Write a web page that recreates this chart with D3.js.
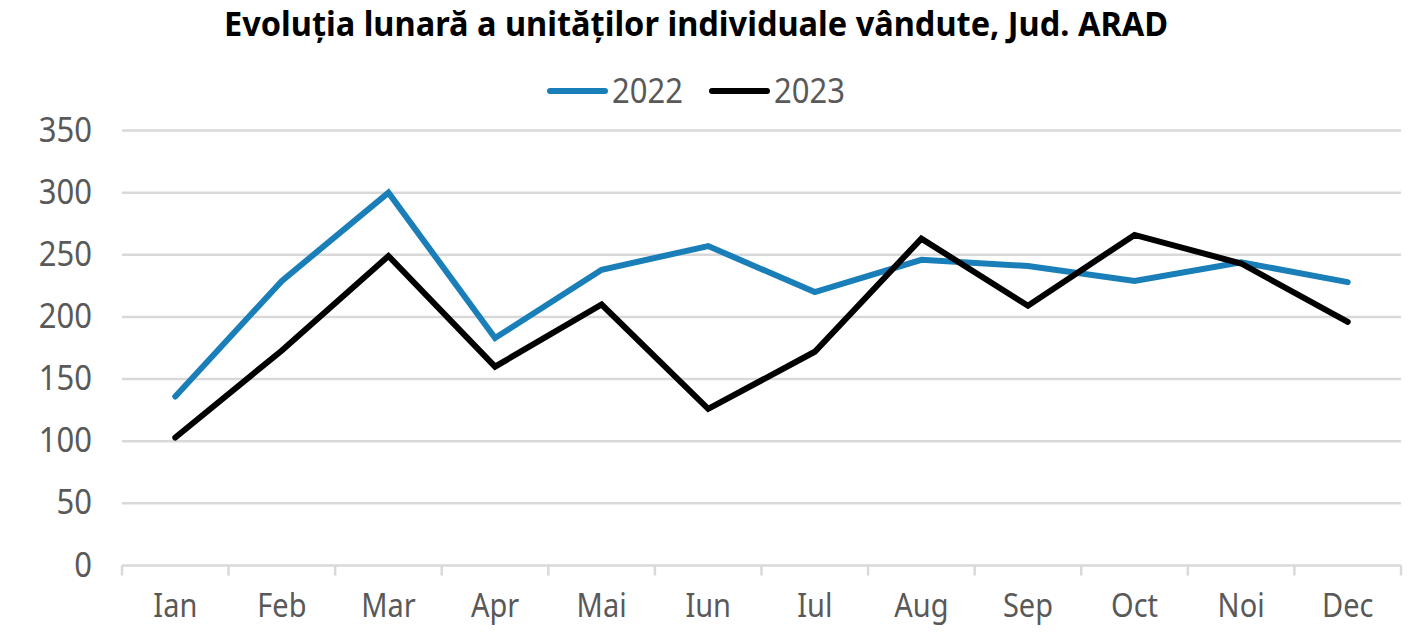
<!DOCTYPE html>
<html>
<head>
<meta charset="utf-8">
<script src="https://cdn.jsdelivr.net/npm/d3@7"></script>
<style>
  body { margin: 0; background: #fff; }
  text { font-family: "Noto Sans", sans-serif; }
</style>
</head>
<body>
<div id="chart"></div>
<script>
const months = ['Ian', 'Feb', 'Mar', 'Apr', 'Mai', 'Iun', 'Iul', 'Aug', 'Sep', 'Oct', 'Noi', 'Dec'];
const values2022 = [136, 229, 300, 183, 238, 257, 220, 246, 241, 229, 244, 228];
const values2023 = [103, 173, 249, 160, 210, 126, 172, 263, 209, 266, 243, 196];
const yTicks = [0, 50, 100, 150, 200, 250, 300, 350];
const seriesNames = ['2022', '2023'];
const seriesColors = ['#1a7fb9', '#000000'];

const width = 1424, height = 641;
const margin = { top: 130.5, right: 23, bottom: 75.5, left: 122 };

const svg = d3.select('#chart').append('svg')
    .attr('width', width)
    .attr('height', height);

const x = d3.scaleBand()
    .domain(months)
    .range([margin.left, width - margin.right]);

const y = d3.scaleLinear()
    .domain([0, 350])
    .range([height - margin.bottom, margin.top]);

//  grid lines
svg.append('g')
    .selectAll('line')
    .data(yTicks)
    .enter().append('line')
    .attr('x1', margin.left)
    .attr('x2', width - margin.right)
    .attr('y1', d => y(d))
    .attr('y2', d => y(d))
    .attr('stroke', '#d9d9d9')
    .attr('stroke-width', 2.5);

//  y labels
svg.append('g')
    .selectAll('text')
    .data(yTicks)
    .enter().append('text')
    .attr('transform', d => 'translate(92,' + (y(d) + 11) + ') scale(1,1.12)')
    .attr('text-anchor', 'end')
    .attr('font-size', 31)
    .attr('fill', '#595959')
    .text(d => d);

//  x axis ticks between bands
const xAxis = d3.axisBottom(x).tickSize(0).tickFormat('');
const gx = svg.append('g')
    .attr('transform', 'translate(0,' + y(0) + ')')
    .call(xAxis);
gx.select('.domain').remove();
const bounds = months.map(m => x(m)).concat([x(months[months.length - 1]) + x.bandwidth()]);
gx.selectAll('.sep')
    .data(bounds)
    .enter().append('line')
    .attr('x1', d => d)
    .attr('x2', d => d)
    .attr('y1', 0)
    .attr('y2', 10)
    .attr('stroke', '#d9d9d9')
    .attr('stroke-width', 2.5);

svg.append('g')
    .selectAll('text')
    .data(months)
    .enter().append('text')
    .attr('transform', d => 'translate(' + (x(d) + x.bandwidth() / 2) + ',617) scale(1,1.12)')
    .attr('text-anchor', 'middle')
    .attr('font-size', 29)
    .attr('fill', '#595959')
    .text(d => d);

//  lines
const line = d3.line()
    .x((d, i) => x(months[i]) + x.bandwidth() / 2)
    .y(d => y(d));

[values2022, values2023].forEach((vals, k) => {
    svg.append('path')
        .datum(vals)
        .attr('fill', 'none')
        .attr('stroke', seriesColors[k])
        .attr('stroke-width', 6)
        .attr('stroke-linejoin', 'miter')
        .attr('stroke-linecap', 'round')
        .attr('d', line);
});

//  title
svg.append('text')
    .attr('transform', 'translate(696,36) scale(1.05,1.08)')
    .attr('text-anchor', 'middle')
    .attr('font-size', 31)
    .attr('font-weight', 'bold')
    .attr('fill', '#000')
    .text('Evoluția lunară a unităților individuale vândute, Jud. ARAD');

//  legend
const legendX = [550, 712];
const legend = svg.append('g');
seriesNames.forEach((name, k) => {
    legend.append('line')
        .attr('x1', legendX[k])
        .attr('x2', legendX[k] + 55)
        .attr('y1', 91)
        .attr('y2', 91)
        .attr('stroke', seriesColors[k])
        .attr('stroke-width', 6)
        .attr('stroke-linecap', 'round');
    legend.append('text')
        .attr('transform', 'translate(' + (legendX[k] + 62) + ',103) scale(1,1.12)')
        .attr('font-size', 31)
        .attr('fill', '#595959')
        .text(name);
});
</script>
</body>
</html>
